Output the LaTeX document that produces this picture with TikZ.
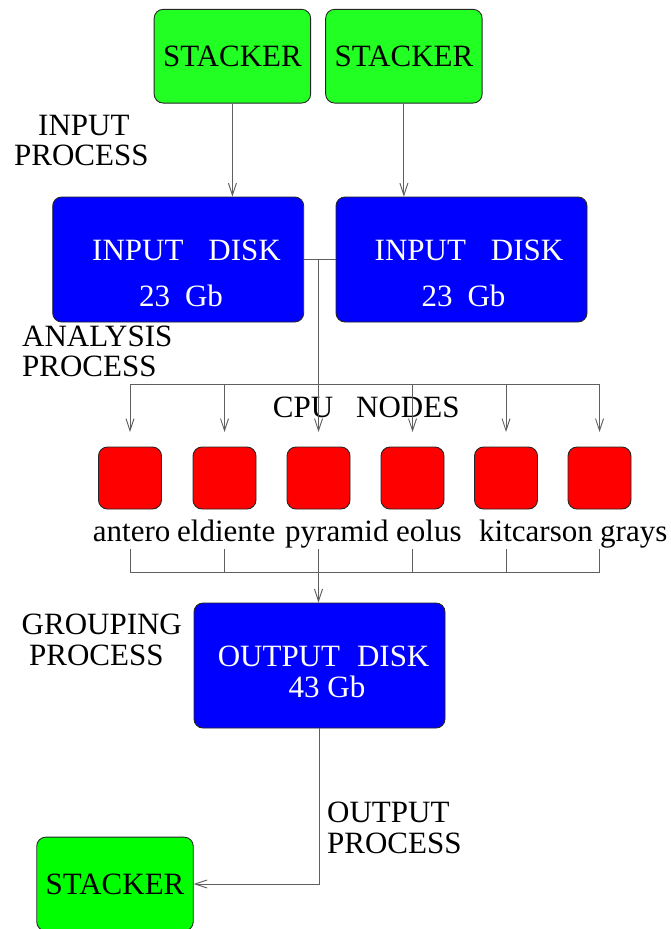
\documentclass[tikz,border=0pt]{standalone}
\usepackage{fontspec}
\setmainfont{Liberation Serif}
\usetikzlibrary{arrows.meta}
\definecolor{topgreen}{RGB}{34,255,34}
\definecolor{botgreen}{RGB}{0,255,0}
\definecolor{diskblue}{RGB}{0,0,255}
\definecolor{cpured}{RGB}{255,0,0}
\definecolor{linegray}{RGB}{95,95,95}
\begin{document}
\begin{tikzpicture}[x=1pt,y=-1pt,
  box/.style={draw=black!85, line width=0.9pt, rounded corners=9pt, inner sep=0pt,
              font=\fontsize{31}{37}\selectfont},
  stackerbox/.style={box, minimum width=156.5pt, minimum height=93.7pt},
  diskbox/.style={box, fill=diskblue, minimum width=251pt, minimum height=125pt},
  cpubox/.style={box, fill=cpured, minimum width=63pt, minimum height=62pt},
  txt/.style={font=\fontsize{31}{37}\selectfont, inner sep=0pt},
  wtxt/.style={txt, text=white, anchor=base},
  lbl/.style={txt, anchor=base west},
  conn/.style={draw=linegray, line width=0.9pt},
  arr/.style={conn, -{Straight Barb[length=12pt,width=8pt]}}
]
\useasboundingbox (0,0) rectangle (670,929);

% stackers
\node[stackerbox, fill=topgreen] (s1) at (232.4,56.2) {STACKER};
\node[stackerbox, fill=topgreen] (s2) at (403.9,56.2) {STACKER};
\node[stackerbox, fill=botgreen] (s3) at (115,884) {STACKER};

% input disks
\node[diskbox] (d1) at (178.2,259.5) {};
\node[diskbox] (d2) at (461.5,259.5) {};
\node[wtxt] (d1a) at (186.5,260) {INPUT\hspace{25pt}DISK};
\node[wtxt] (d1b) at (181,306) {23\hspace{15pt}Gb};
\node[wtxt] (d2a) at (469,260) {INPUT\hspace{25pt}DISK};
\node[wtxt] (d2b) at (463.5,306) {23\hspace{15pt}Gb};

% output disk
\node[diskbox] (od) at (319.5,665.5) {};
\node[wtxt] (oda) at (323.6,666) {OUTPUT\hspace{17pt}DISK};
\node[wtxt] (odb) at (327,697) {43 Gb};

% cpu nodes
\node[cpubox] (c1) at (130,478) {};
\node[cpubox] (c2) at (224.5,478) {};
\node[cpubox] (c3) at (318.5,478) {};
\node[cpubox] (c4) at (412.5,478) {};
\node[cpubox] (c5) at (506,478) {};
\node[cpubox] (c6) at (599.5,478) {};

% cpu names
\node[lbl] (l1) at (92.7,541) {antero};
\node[lbl] (l2) at (177,541) {eldiente};
\node[lbl] (l3) at (285,541) {pyramid};
\node[lbl] (l4) at (396,541) {eolus};
\node[lbl] (l5) at (479,541) {kitcarson};
\node[lbl] (l6) at (600,541) {grays};

% process labels
\node[lbl] (ip1) at (38,135) {INPUT};
\node[lbl] (ip2) at (14,165) {PROCESS};
\node[lbl] (ap1) at (22,346) {ANALYSIS};
\node[lbl] (ap2) at (22,376) {PROCESS};
\node[lbl] (cpu) at (272.7,417) {CPU\hspace{23pt}NODES};
\node[lbl] (gp1) at (21.5,634) {GROUPING};
\node[lbl] (gp2) at (29,665) {PROCESS};
\node[lbl] (op1) at (327,822) {OUTPUT};
\node[lbl] (op2) at (327,853) {PROCESS};

% bus coordinates
\coordinate (busT) at (0,384);
\coordinate (tipT) at (0,432);
\coordinate (dropB) at (0,549);
\coordinate (busB) at (0,572);

% input connectors
\draw[arr] (s1.south) -- (s1.south |- d1.north);
\draw[arr] (s2.south) -- (s2.south |- d2.north);

% disk link and distribution
\draw[conn] (d1.east) -- (d2.west);
\draw[arr] (c3 |- d1.east) -- (c3 |- tipT);
\draw[conn] (c1 |- busT) -- (c6 |- busT);
\foreach \c in {c1,c2,c4,c5,c6}{
  \draw[arr] (\c |- busT) -- (\c |- tipT);
}

% collection
\foreach \c in {c1,c2,c3,c4,c5,c6}{
  \draw[conn] (\c |- dropB) -- (\c |- busB);
}
\draw[conn] (c1 |- busB) -- (c6 |- busB);
\draw[arr] (c3 |- busB) -- (c3 |- od.north);

% output
\draw[arr] (od.south) -- (od.south |- s3.east) -- (s3.east);
\end{tikzpicture}
\end{document}
